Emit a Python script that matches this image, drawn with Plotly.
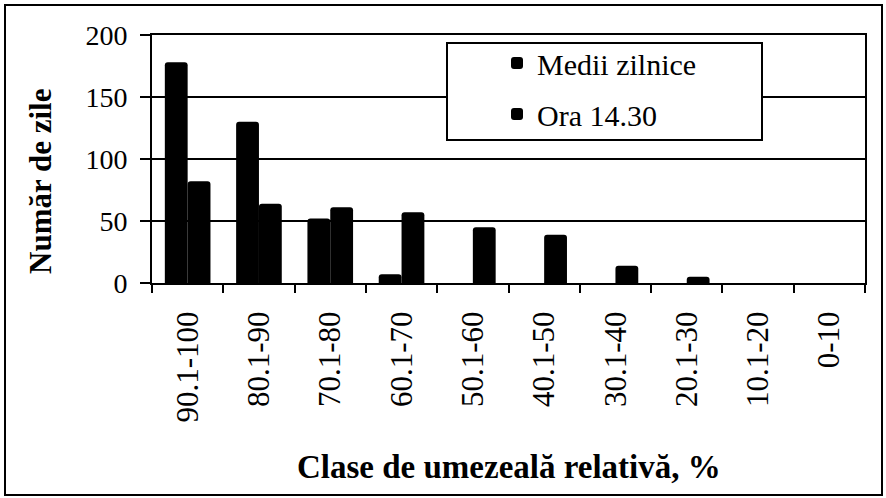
import plotly.graph_objects as go

categories = ["90.1-100", "80.1-90", "70.1-80", "60.1-70", "50.1-60",
              "40.1-50", "30.1-40", "20.1-30", "10.1-20", "0-10"]
medii_zilnice = [178, 130, 52, 7, 0, 0, 0, 0, 0, 0]
ora_1430 = [82, 64, 61, 57, 45, 39, 14, 5, 0, 0]
y_ticks = [0, 50, 100, 150, 200]

SERIF = "Liberation Serif, Times New Roman, serif"

fig = go.Figure()
fig.add_trace(go.Bar(x=categories, y=medii_zilnice, name="Medii zilnice",
                     marker=dict(color="black", line=dict(width=0)),
                     legendgroup="a"))
fig.add_trace(go.Bar(x=categories, y=ora_1430, name="Ora 14.30",
                     marker=dict(color="black", line=dict(width=0)),
                     legendgroup="b"))

L, R, T, B = 152, 865, 35, 283
W, H = 886, 498
pw, ph = R - L, B - T

def px(x):
    return (x - L) / pw

def py(y):
    return (B - y) / ph

fig.update_layout(
    width=W, height=H,
    margin=dict(l=L, r=W - R, t=T, b=H - B, pad=0),
    paper_bgcolor="white", plot_bgcolor="white",
    barmode="group", bargap=0.36, bargroupgap=0,
    barcornerradius=3,
    font=dict(family=SERIF, color="black"),
    showlegend=True,
    legend=dict(x=px(497), y=py(37), xanchor="left", yanchor="top",
                bgcolor="rgba(0,0,0,0)", borderwidth=0,
                font=dict(family=SERIF, size=30, color="black"),
                traceorder="grouped", tracegroupgap=9),
    xaxis=dict(type="category", tickson="boundaries", ticks="outside",
               ticklen=8, tickwidth=2, tickcolor="black",
               tickangle=-90, tickfont=dict(family=SERIF, size=31, color="black"),
               ticklabelstandoff=14,
               showline=True, linecolor="black", linewidth=2, mirror=True,
               showgrid=False, zeroline=False),
    yaxis=dict(range=[0, 200], tickvals=y_ticks, ticks="outside",
               ticklen=10, tickwidth=2, tickcolor="black",
               tickfont=dict(family=SERIF, size=28, color="black"),
               ticklabelstandoff=7,
               showline=True, linecolor="black", linewidth=2, mirror=True,
               showgrid=True, gridcolor="black", gridwidth=1.5,
               zeroline=False),
    shapes=[
        dict(type="rect", xref="paper", yref="paper",
             x0=px(447), x1=px(762), y0=py(140), y1=py(43),
             fillcolor="white", line=dict(color="black", width=2), layer="above"),
        dict(type="rect", xref="paper", yref="paper",
             x0=px(5), x1=px(882), y0=py(495), y1=py(5),
             fillcolor="rgba(0,0,0,0)", line=dict(color="black", width=2)),
    ],
    annotations=[
        dict(text="<b>Clase de umezeală relativă, %</b>", xref="paper", yref="paper",
             x=0.5, y=py(467), xanchor="center", yanchor="middle", showarrow=False,
             font=dict(family=SERIF, size=33, color="black")),
        dict(text="<b>Număr de zile</b>", xref="paper", yref="paper",
             x=px(40), y=py(182), xanchor="center", yanchor="middle", showarrow=False,
             textangle=-90, font=dict(family=SERIF, size=31, color="black")),
    ],
)

fig.write_html("out.html", config={"displayModeBar": False},
               post_script="document.body.style.margin='0';document.body.style.overflow='hidden';")
